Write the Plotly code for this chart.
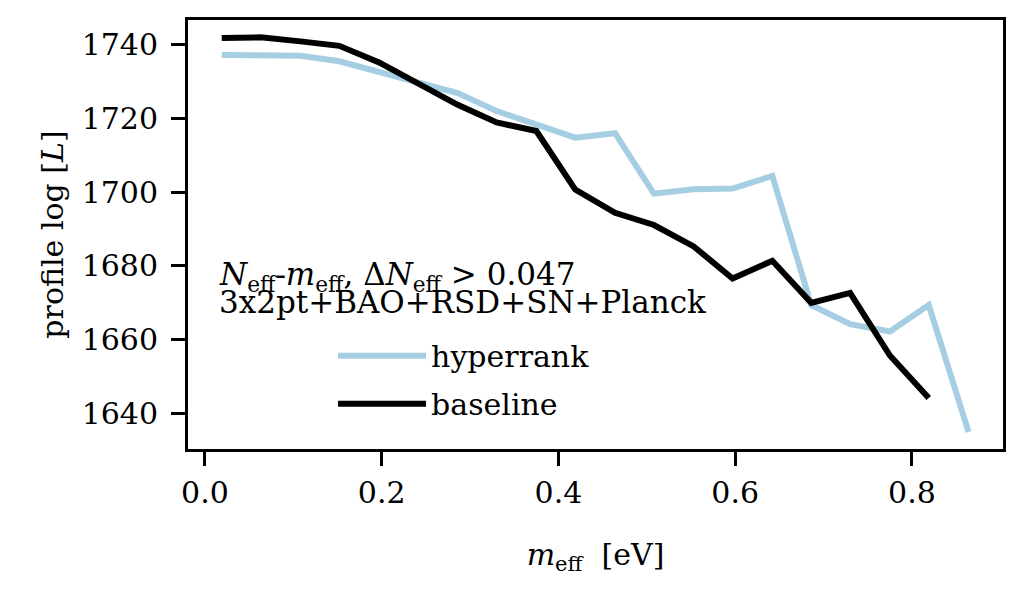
import plotly.graph_objects as go

# dados
m_eff = [0.019, 0.063, 0.108, 0.152, 0.197, 0.241, 0.286, 0.330, 0.375, 0.419,
         0.464, 0.508, 0.553, 0.597, 0.642, 0.686, 0.730, 0.775, 0.819, 0.864]

hyperrank = [1737.2, 1737.2, 1737.0, 1735.5, 1732.6, 1729.9, 1726.9, 1722.0, 1718.4, 1714.8,
             1716.0, 1699.6, 1700.8, 1701.0, 1704.4, 1669.4, 1664.2, 1662.2, 1669.4, 1635.0]

baseline = [1741.8, 1742.0, 1740.9, 1739.7, 1735.2, 1729.4, 1723.7, 1718.9, 1716.6, 1700.7,
            1694.4, 1691.1, 1685.3, 1676.6, 1681.4, 1670.0, 1672.7, 1655.7, 1644.2]

x_ticks = [0.0, 0.2, 0.4, 0.6, 0.8]
x_ticklabels = ['0.0', '0.2', '0.4', '0.6', '0.8']
y_ticks = [1640, 1660, 1680, 1700, 1720, 1740]

fonte = 'DejaVu Serif'
tam = 30

fig = go.Figure()

fig.add_trace(
    go.Scatter(
        x=m_eff,
        y=hyperrank,
        name='hyperrank',
        legendgroup='a',
        mode='lines',
        line=dict(color='#a6cee3', width=6)
    )
)

fig.add_trace(
    go.Scatter(
        x=m_eff[:len(baseline)],
        y=baseline,
        name='baseline',
        legendgroup='b',
        mode='lines',
        line=dict(color='black', width=6)
    )
)

eixo = dict(
    showgrid=False,
    zeroline=False,
    showline=True,
    linecolor='black',
    linewidth=3,
    mirror=True,
    ticks='outside',
    ticklen=14,
    tickwidth=3,
    tickcolor='black',
    tickfont=dict(family=fonte, size=tam, color='black'),
)

# a página tem 8px de margem no body, por isso a figura é um pouco menor
fig.update_layout(
    width=1012,
    height=592,
    margin=dict(l=180, r=17, t=9, b=151),
    plot_bgcolor='white',
    paper_bgcolor='white',
    font=dict(family=fonte, size=tam, color='black'),
    xaxis=dict(
        eixo,
        range=[-0.0192, 0.903],
        tickvals=x_ticks,
        ticktext=x_ticklabels,
        ticklabelstandoff=1,
        title=dict(text='<i>m</i><sub>eff</sub>  [eV]', standoff=35,
                   font=dict(family=fonte, size=tam))
    ),
    yaxis=dict(
        eixo,
        range=[1630.35, 1746.7],
        tickvals=y_ticks,
        ticklabelstandoff=7,
        title=dict(text='profile log [<i>L</i>]', standoff=10,
                   font=dict(family=fonte, size=tam))
    ),
    showlegend=True,
    legend=dict(
        x=0.178,
        y=0.278,
        xanchor='left',
        yanchor='top',
        bgcolor='rgba(0,0,0,0)',
        itemwidth=88,
        font=dict(family=fonte, size=tam),
        tracegroupgap=6
    ),
    annotations=[
        dict(
            text='<i>N</i><sub>eff</sub>-<i>m</i><sub>eff</sub>, Δ<i>N</i><sub>eff</sub> &gt; 0.047',
            xref='paper', yref='paper',
            x=0.0356, y=(449 - 275) / 432,
            xanchor='left', yanchor='middle',
            showarrow=False,
            font=dict(family=fonte, size=31)
        ),
        dict(
            text='3x2pt+BAO+RSD+SN+Planck',
            xref='paper', yref='paper',
            x=0.0356, y=(449 - 301) / 432,
            xanchor='left', yanchor='middle',
            showarrow=False,
            font=dict(family=fonte, size=31)
        ),
    ]
)

fig.write_html("out.html")
